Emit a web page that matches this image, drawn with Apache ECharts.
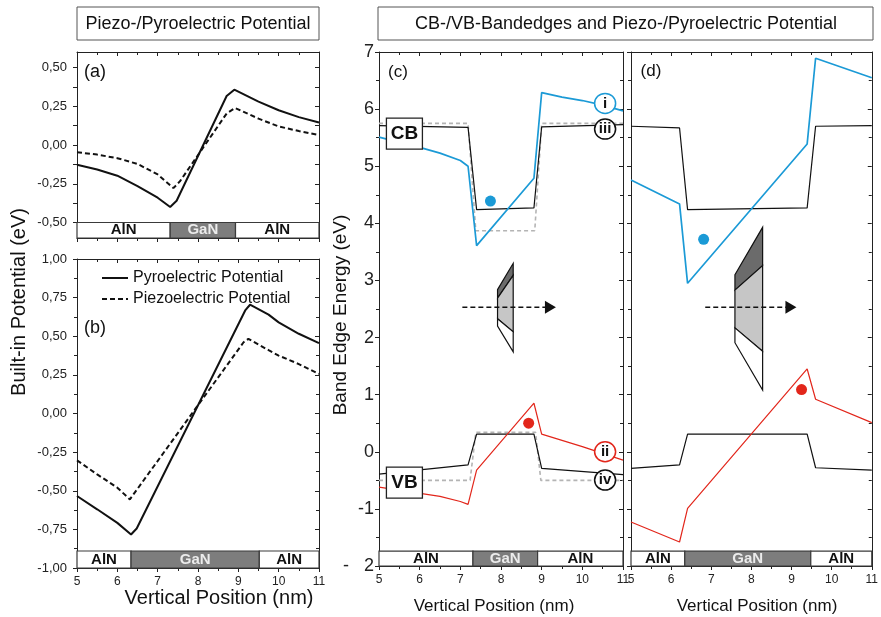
<!DOCTYPE html>
<html>
<head>
<meta charset="utf-8">
<script src="https://cdn.jsdelivr.net/npm/echarts@6/dist/echarts.min.js"></script>
<style>
html, body { margin: 0; padding: 0; background: #fff; }
#chart { width: 881px; height: 617px; }
</style>
</head>
<body>
<div id="chart"></div>
<script>
// ---- 数据 ----
// (a) 极化势
const xA_pyro  = [5, 5.5, 6, 6.5, 7, 7.31, 7.47, 8.71, 8.9, 9.5, 10, 10.5, 11];
const yA_pyro  = [-0.128, -0.158, -0.198, -0.265, -0.34, -0.40, -0.36, 0.316, 0.357, 0.28, 0.224, 0.18, 0.145];
const xA_piezo = [5, 5.5, 6, 6.5, 7, 7.39, 7.55, 8.71, 8.92, 9.5, 10, 10.5, 11];
const yA_piezo = [-0.047, -0.062, -0.085, -0.122, -0.19, -0.278, -0.235, 0.203, 0.239, 0.17, 0.12, 0.09, 0.064];
// (b)
const xB_pyro  = [5, 5.5, 6, 6.34, 6.48, 9.17, 9.29, 9.75, 10, 10.5, 11];
const yB_pyro  = [-0.534, -0.62, -0.708, -0.783, -0.744, 0.667, 0.704, 0.64, 0.59, 0.516, 0.455];
const xB_piezo = [5, 5.5, 6, 6.31, 9.13, 9.25, 9.75, 10, 10.5, 11];
const yB_piezo = [-0.303, -0.394, -0.48, -0.556, 0.461, 0.483, 0.41, 0.375, 0.32, 0.256];
// (c) 能带边
const xC_cbI   = [5, 6, 6.5, 7, 7.19, 7.40, 8.81, 9.0, 9.5, 10, 10.5, 11];
const yC_cbI   = [5.51, 5.33, 5.23, 5.10, 5.0, 3.61, 4.79, 6.29, 6.21, 6.15, 6.07, 5.97];
const xC_cbIII = [5, 7.19, 7.40, 8.81, 9.0, 11];
const yC_cbIII = [5.71, 5.68, 4.24, 4.27, 5.69, 5.73];
const xC_cbRef = [5, 7.19, 7.38, 8.83, 9.0, 11];
const yC_cbRef = [5.75, 5.75, 3.87, 3.87, 5.75, 5.75];
const xC_vbII  = [5, 6.5, 7, 7.19, 7.40, 8.81, 9.0, 10, 11];
const yC_vbII  = [-0.62, -0.78, -0.87, -0.92, -0.32, 0.85, 0.31, 0.09, -0.145];
const xC_vbIV  = [5, 7.19, 7.40, 8.81, 9.0, 11];
const yC_vbIV  = [-0.39, -0.23, 0.31, 0.31, -0.29, -0.40];
const xC_vbRef = [5, 7.24, 7.38, 8.85, 8.98, 11];
const yC_vbRef = [-0.5, -0.5, 0.34, 0.34, -0.5, -0.5];
// (d)
const xD       = [5, 6.21, 6.41, 9.39, 9.60, 11];
const yD_cbI   = [4.76, 4.34, 2.95, 5.39, 6.89, 6.55];
const yD_cbIII = [5.70, 5.67, 4.24, 4.27, 5.70, 5.71];
const yD_vbII  = [-1.23, -1.58, -0.99, 1.45, 0.92, 0.51];
const yD_vbIV  = [-0.29, -0.23, 0.31, 0.31, -0.28, -0.32];

// 电子/空穴位置
const dotsC = { e: [7.74, 4.39], h: [8.68, 0.50] };
const dotsD = { e: [6.81, 3.72], h: [9.25, 1.09] };

// 圆圈标注
const circleNames = ['i', 'iii', 'ii', 'iv'];
const circleX = [10.56, 10.56, 10.56, 10.56];
const circleY = [6.10, 5.65, 0.0, -0.495];
const bandBoxNames = ['CB', 'VB'];
const bandBoxX = [5.625, 5.625];
const bandBoxY = [5.57, -0.54];

// 层结构
const stripNames = ['AlN', 'GaN', 'AlN'];
const stripA = [5, 7.31, 8.93, 11];
const stripB = [5, 6.34, 9.52, 11];
const stripC = [5, 7.31, 8.9, 11];
const stripD = [5, 6.34, 9.48, 11];

// 晶体示意图 (数据坐标)
const crystalC = [
    [[7.915, 2.84], [8.30, 3.30], [8.30, 3.09], [7.915, 2.69]],
    [[7.915, 2.69], [8.30, 3.09], [8.30, 2.10], [7.915, 2.33]],
    [[7.915, 2.33], [8.30, 2.10], [8.30, 1.75], [7.915, 2.20]]
];
const crystalD = [
    [[7.59, 3.10], [8.28, 3.93], [8.28, 3.26], [7.59, 2.83]],
    [[7.59, 2.83], [8.28, 3.26], [8.28, 1.76], [7.59, 2.17]],
    [[7.59, 2.17], [8.28, 1.76], [8.28, 1.08], [7.59, 1.91]]
];
const arrowC = { x0: 7.05, x1: 9.1, head: 9.215, y: 2.53 };
const arrowD = { x0: 6.85, x1: 8.9, head: 8.985, y: 2.53 };

// ---- 样式 ----
const FONT = 'Liberation Sans, Arial, sans-serif';
const BLUE = '#1b9ad6';
const RED = '#e2261b';
const INK = '#111';
const GREY = '#b4b4b4';
const crystalFill = ['#6b6b6b', '#c6c6c6', '#ffffff'];

const zip = (xs, ys) => xs.map((x, i) => [x, ys[i]]);
const comma = v => v.toFixed(2).replace('.', ',');

const chartDom = document.getElementById('chart');
const myChart = echarts.init(chartDom);

const grids = [
    { left: 77, top: 52, width: 242, height: 186 },
    { left: 77, top: 259, width: 242, height: 309 },
    { left: 379, top: 52, width: 244, height: 514 },
    { left: 631, top: 52, width: 246, height: 514 }
];

const lineAxis = { onZero: false, lineStyle: { color: '#222', width: 1 } };
const tickStyle = { color: '#222', width: 1 };

const xAxes = [];
const yAxes = [];
grids.forEach((g, gi) => {
    const base = {
        type: 'value', gridIndex: gi, min: 5, max: 11, interval: 1,
        axisLine: lineAxis, splitLine: { show: false },
        minorTick: { show: true, splitNumber: 2, length: 3, lineStyle: tickStyle }
    };
    xAxes.push(Object.assign({}, base, {
        position: 'bottom',
        axisTick: { inside: false, length: 4, lineStyle: tickStyle },
        axisLabel: { show: gi !== 0, fontSize: 12, margin: 8, color: '#222', fontFamily: FONT }
    }));
    xAxes.push(Object.assign({}, base, {
        position: 'top',
        axisTick: { inside: true, length: 4, lineStyle: tickStyle },
        axisLabel: { show: false }
    }));
});

function yPair(gi, opt, labelOpt) {
    const base = Object.assign({
        type: 'value', gridIndex: gi, axisLine: lineAxis, splitLine: { show: false }
    }, opt);
    yAxes.push(Object.assign({}, base, {
        position: 'left',
        axisTick: Object.assign({ inside: false, length: 4, lineStyle: tickStyle }, opt.axisTick || {}),
        axisLabel: labelOpt
    }));
    yAxes.push(Object.assign({}, base, {
        position: 'right',
        axisTick: Object.assign({ inside: true, length: 4, lineStyle: tickStyle }, opt.axisTick || {}),
        axisLabel: { show: false }
    }));
}
const leftLabel = { fontSize: 13, margin: 10, color: '#222', fontFamily: FONT, formatter: comma };
yPair(0, {
    min: -0.6, max: 0.6,
    axisTick: { customValues: [-0.5, -0.375, -0.25, -0.125, 0, 0.125, 0.25, 0.375, 0.5] }
}, Object.assign({ customValues: [-0.5, -0.25, 0, 0.25, 0.5] }, leftLabel));
yPair(1, {
    min: -1, max: 1, interval: 0.25,
    minorTick: { show: true, splitNumber: 2, length: 3, lineStyle: tickStyle }
}, leftLabel);
yPair(2, {
    min: -2, max: 7, interval: 1,
    minorTick: { show: true, splitNumber: 2, length: 3, lineStyle: tickStyle }
}, { fontSize: 18, margin: 5, color: '#222', fontFamily: FONT,
     formatter: v => (v === -2 ? '-   2' : String(v)) });
yPair(3, {
    min: -2, max: 7, interval: 1,
    minorTick: { show: true, splitNumber: 2, length: 3, lineStyle: tickStyle }
}, { show: false });

function line(gi, data, color, width, type, z, name) {
    return {
        type: 'line', name: name, xAxisIndex: 2 * gi, yAxisIndex: 2 * gi,
        data: data, showSymbol: false, symbol: 'none', silent: true, z: z,
        lineStyle: { color: color, width: width, type: type || 'solid' },
        itemStyle: { color: color }
    };
}

function stripArea(bounds, y0, y1) {
    return {
        silent: true,
        itemStyle: { opacity: 1, borderColor: '#3a3a3a', borderWidth: 1.2 },
        label: { show: true, position: 'inside', fontWeight: 'bold', fontSize: 15, fontFamily: FONT },
        data: stripNames.map((n, i) => [
            {
                name: n, coord: [bounds[i], y0],
                itemStyle: { color: n === 'GaN' ? '#7d7d7d' : '#ffffff', opacity: 1, borderColor: '#3a3a3a', borderWidth: 1.2 },
                label: { color: n === 'GaN' ? '#ececec' : INK }
            },
            { coord: [bounds[i + 1], y1] }
        ])
    };
}

function crystal(gi, polys) {
    return {
        type: 'custom', xAxisIndex: 2 * gi, yAxisIndex: 2 * gi, silent: true, z: 4,
        data: polys.map(p => p[0]),
        renderItem: (params, api) => ({
            type: 'polygon',
            shape: { points: polys[params.dataIndex].map(pt => api.coord(pt)) },
            style: { fill: crystalFill[params.dataIndex], stroke: INK, lineWidth: 1.2 }
        })
    };
}

function arrow(gi, a) {
    return [
        line(gi, [[a.x0, a.y], [a.x1, a.y]], INK, 1.6, [5, 3], 4),
        {
            type: 'scatter', xAxisIndex: 2 * gi, yAxisIndex: 2 * gi, silent: true, z: 4,
            data: [[a.head, a.y]], symbol: 'triangle', symbolRotate: -90, symbolSize: [13, 11],
            itemStyle: { color: INK, opacity: 1 }
        }
    ];
}

function dots(gi, d) {
    return {
        type: 'scatter', xAxisIndex: 2 * gi, yAxisIndex: 2 * gi, silent: true, z: 4,
        symbolSize: 11,
        data: [
            { value: d.e, itemStyle: { color: BLUE, opacity: 1 } },
            { value: d.h, itemStyle: { color: RED, opacity: 1 } }
        ]
    };
}

const circleColor = { i: BLUE, ii: RED, iii: INK, iv: INK };

const series = [
    // (a)
    Object.assign(line(0, zip(xA_pyro, yA_pyro), INK, 2, 'solid', 3, 'Pyroelectric Potential'),
        { markArea: stripArea(stripA, -0.6, -0.5) }),
    line(0, zip(xA_piezo, yA_piezo), INK, 2, [5, 3], 3, 'Piezoelectric Potential'),
    // (b)
    Object.assign(line(1, zip(xB_pyro, yB_pyro), INK, 2, 'solid', 3, 'Pyroelectric Potential'),
        { markArea: stripArea(stripB, -1, -0.89) }),
    line(1, zip(xB_piezo, yB_piezo), INK, 2, [5, 3], 3, 'Piezoelectric Potential'),
    // (c)
    line(2, zip(xC_cbRef, yC_cbRef), GREY, 1.6, [4, 3], 1),
    line(2, zip(xC_vbRef, yC_vbRef), GREY, 1.6, [4, 3], 1),
    Object.assign(line(2, zip(xC_cbIII, yC_cbIII), INK, 1.2, 'solid', 2),
        { markArea: stripArea(stripC, -2, -1.74) }),
    line(2, zip(xC_vbIV, yC_vbIV), INK, 1.2, 'solid', 2),
    line(2, zip(xC_cbI, yC_cbI), BLUE, 1.7, 'solid', 3),
    line(2, zip(xC_vbII, yC_vbII), RED, 1.2, 'solid', 3),
    dots(2, dotsC),
    crystal(2, crystalC),
    ...arrow(2, arrowC),
    {
        type: 'scatter', xAxisIndex: 4, yAxisIndex: 4, silent: true, z: 6,
        symbol: 'circle', symbolSize: [21, 20],
        data: circleNames.map((n, i) => ({
            name: n, value: [circleX[i], circleY[i]],
            itemStyle: { color: '#fff', opacity: 1, borderColor: circleColor[n], borderWidth: 1.5 }
        })),
        label: { show: true, position: 'inside', formatter: '{b}', color: INK,
                 fontWeight: 'bold', fontSize: 15, fontFamily: FONT }
    },
    {
        type: 'scatter', xAxisIndex: 4, yAxisIndex: 4, silent: true, z: 6,
        symbol: 'rect', symbolSize: [36, 31],
        data: bandBoxNames.map((n, i) => ({ name: n, value: [bandBoxX[i], bandBoxY[i]] })),
        itemStyle: { color: '#fff', opacity: 1, borderColor: '#222', borderWidth: 1.2 },
        label: { show: true, position: 'inside', formatter: '{b}', color: INK,
                 fontWeight: 'bold', fontSize: 19, fontFamily: FONT }
    },
    // (d)
    Object.assign(line(3, zip(xD, yD_cbIII), INK, 1.2, 'solid', 2),
        { markArea: stripArea(stripD, -2, -1.74) }),
    line(3, zip(xD, yD_vbIV), INK, 1.2, 'solid', 2),
    line(3, zip(xD, yD_cbI), BLUE, 1.7, 'solid', 3),
    line(3, zip(xD, yD_vbII), RED, 1.2, 'solid', 3),
    dots(3, dotsD),
    crystal(3, crystalD),
    ...arrow(3, arrowD)
];

function txt(x, y, text, size, extra) {
    return Object.assign({
        type: 'text', x: x, y: y, silent: true,
        style: {
            text: text, fontSize: size, fontFamily: FONT, fill: INK,
            textAlign: 'center', textVerticalAlign: 'middle',
            align: 'center', verticalAlign: 'middle'
        }
    }, extra || {});
}

const option = {
    animation: false,
    backgroundColor: '#fff',
    grid: grids,
    xAxis: xAxes,
    yAxis: yAxes,
    legend: {
        data: ['Pyroelectric Potential', 'Piezoelectric Potential'],
        orient: 'vertical', left: 96, top: 265,
        itemWidth: 26, itemHeight: 12, itemGap: 5,
        itemStyle: { opacity: 0 },
        selectedMode: false,
        textStyle: { fontSize: 16, color: INK, fontFamily: FONT }
    },
    graphic: [
        { type: 'rect', shape: { x: 77, y: 7, width: 242, height: 33 }, style: { fill: '#fff', stroke: '#555', lineWidth: 1 } },
        txt(198, 24, 'Piezo-/Pyroelectric Potential', 18),
        { type: 'rect', shape: { x: 378, y: 7, width: 495, height: 33 }, style: { fill: '#fff', stroke: '#555', lineWidth: 1 } },
        txt(626, 24, 'CB-/VB-Bandedges and Piezo-/Pyroelectric Potential', 18),
        txt(19, 302, 'Built-in Potential (eV)', 20, { rotation: Math.PI / 2 }),
        txt(341, 315, 'Band Edge Energy (eV)', 19, { rotation: Math.PI / 2 }),
        txt(219, 598, 'Vertical Position (nm)', 20),
        txt(494, 606, 'Vertical Position (nm)', 17),
        txt(757, 606, 'Vertical Position (nm)', 17),
        txt(95, 72, '(a)', 18),
        txt(95, 328, '(b)', 18),
        txt(398, 72, '(c)', 17),
        txt(651, 71, '(d)', 17)
    ],
    series: series
};

myChart.setOption(option);
window.addEventListener('resize', function () {
    myChart.resize();
});
</script>
</body>
</html>
